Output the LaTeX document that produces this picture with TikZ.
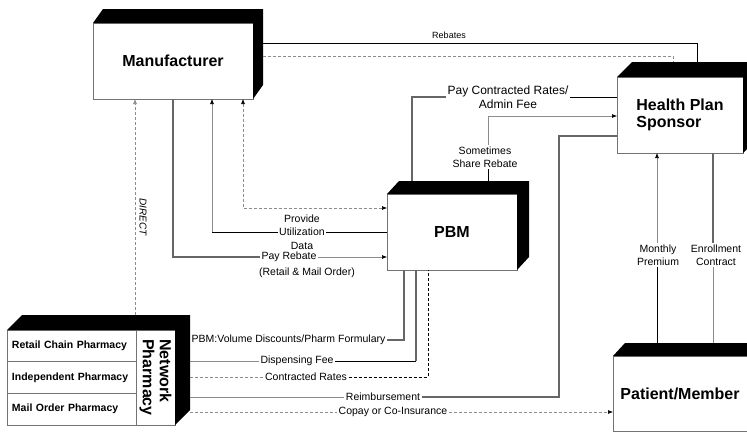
\documentclass[tikz,border=0pt]{standalone}
\usepackage{fontspec}
\setmainfont{Liberation Sans}
\usetikzlibrary{calc,arrows.meta}
\newcommand{\cubeback}[4]{\fill[black] (#1) -- ++(#3,-#4) -| ($(#2)+(#3,-#4)$) -- (#2) -- (#2 |- #1) -- cycle;}
\begin{document}
\begin{tikzpicture}[x=1pt,y=-1pt,
  front/.style={draw=black!55, line width=0.8pt, fill=white, inner sep=0pt, outer sep=0pt},
  big/.style={font=\fontsize{16}{17}\selectfont\bfseries},
  lab/.style={font=\fontsize{10.5}{12.5}\selectfont, inner sep=1.5pt, align=center},
  lk/.style={line width=0.9pt, draw=black},
  lm/.style={line width=1.1pt, draw=black!60},
  ll/.style={line width=0.6pt, draw=black!45},
  dsh/.style={dash pattern=on 3pt off 2pt},
  tip/.style={-{Latex[length=5pt,width=4pt]}},
  tipk/.style={-{Latex[length=5pt,width=4pt,color=black]}},
  rowbox/.style={front, anchor=north west, minimum width=129pt, minimum height=31.67pt, text width=119pt, inner xsep=5pt, align=left, font=\fontsize{10.5}{12.5}\selectfont\bfseries}
]
\useasboundingbox (0,0) rectangle (747,434);

% boxes
\node[front, minimum width=160pt, minimum height=76pt, big] (man) at (173,61) {Manufacturer};
\node[front, minimum width=130pt, minimum height=76pt, big] (pbm) at (452,232) {PBM};
\node[front, minimum width=126pt, minimum height=76pt, big, align=left] (hps) at (680,115) {Health Plan\\Sponsor};
\node[front, minimum width=134pt, minimum height=75pt, big] (pat) at (680,393.5) {Patient/Member};
\node[rowbox] (r1) at (7,330) {Retail Chain Pharmacy};
\node[rowbox] (r2) at (r1.south west) {Independent Pharmacy};
\node[rowbox] (r3) at (r2.south west) {Mail Order Pharmacy};
\node[front, rotate=-90, minimum width=95pt, minimum height=39pt, big, align=left] (np) at (155.5,377.5) {Network\\Pharmacy};
\coordinate (phse) at (r3.south -| np.north);
\coordinate (phx) at ($(np.north)+(15,0)$);

\cubeback{man.north west}{man.south east}{10}{14}
\cubeback{pbm.north west}{pbm.south east}{12}{13}
\cubeback{hps.north west}{hps.south east}{15}{15}
\cubeback{pat.north west}{pat.south east}{12}{13}
\cubeback{r1.north west}{phse}{15}{15}

% Rebates
\draw[lk] ($(man.north east)+(10,20)$) -| ($(hps.north west)+(80,-15)$);
\node[font=\fontsize{9}{11}\selectfont] at (449,35.5) {Rebates};
\draw[ll,dsh] ($(man.north east)+(10,33)$) -| ($(hps.north west)+(56,-15)$);

% DIRECT
\draw[ll,dsh,tip] ($(r1.north west)+(128,-15)$) -- ($(man.south west)+(42,0)$);
\node[font=\fontsize{10}{12}\selectfont\itshape, rotate=-90] at (143,217) {DIRECT};

% Pay Rebate
\node[lab] (prb) at (289,257) {Pay Rebate};
\draw[lm] ($(man.south west)+(80,0)$) |- (prb.west);
\draw[ll,tipk] (prb.east) -- (prb.east -| pbm.west);
\node[lab] at (307,273) {(Retail \& Mail Order)};

% Provide Utilization Data
\node[lab, font=\fontsize{10.5}{13.5}\selectfont] (pud) at (302,232) {Provide\\Utilization\\Data};
\coordinate (mu) at ($(man.south west)+(119,0)$);
\draw[lk] (pbm.west) -- (pud.east);
\draw[lk] (pud.west) -- (pud.west -| mu);
\draw[ll,tipk] (pud.west -| mu) -- (mu);

% dashed manufacturer <-> PBM
\draw[ll,dsh,{Latex[length=5pt,width=4pt,color=black]}-{Latex[length=5pt,width=4pt,color=black]}] ($(man.south west)+(150,0)$) |- ($(pbm.north west)+(0,14)$);

% Pay Contracted Rates / Admin Fee
\node[lab, font=\fontsize{12}{14}\selectfont] (pcr) at (508,97) {Pay Contracted Rates/\\Admin Fee};
\draw[lm] ($(pbm.north west)+(25,-13)$) |- (pcr.west);
\draw[lk] (pcr.east) -- (pcr.east -| hps.west);

% Sometimes Share Rebate
\node[lab] (ssr) at (485,157) {Sometimes\\Share Rebate};
\coordinate (sx) at ($(pbm.north west)+(101,-13)$);
\draw[lk] (sx) -- (sx |- ssr.south);
\draw[ll,tipk] (sx |- ssr.north) |- ($(hps.north west)+(0,39)$);

% Reimbursement
\node[lab] (reim) at (383,397) {Reimbursement};
\draw[lm] ($(hps.north west)+(0,59)$) -| (reim.east -| 559,0) -- (reim.east);
\draw[ll] (reim.west) -- (reim.west -| phx);

% Copay
\node[lab] (cop) at (393,412) {Copay or Co-Insurance};
\draw[ll,dsh] (cop.west -| phx) -- (cop.west);
\draw[ll,dsh,tipk] (cop.east) -- (cop.east -| pat.west);

% PBM volume discounts
\node[lab, anchor=west] (pvd) at (phx |- 0,340) {PBM:Volume Discounts/Pharm Formulary};
\draw[lm] (pvd.east) -| ($(pbm.south west)+(17,0)$);

% Dispensing Fee
\node[lab] (dsp) at (297,361) {Dispensing Fee};
\coordinate (dx) at ($(pbm.south west)+(29,0)$);
\draw[ll] (dsp.west -| phx) -- (dsp.west);
\draw[lk] (dsp.east) -- (dsp.east -| dx);
\draw[lm] (dsp.east -| dx) -- (dx);

% Contracted Rates
\node[lab] (crt) at (306,377) {Contracted Rates};
\draw[ll,dsh] (crt.west -| phx) -- (crt.west);
\draw[lk,dsh,line width=0.8pt] (crt.east) -| ($(pbm.south west)+(41,0)$);

% Monthly Premium
\node[lab] (mp) at (658,255) {Monthly\\Premium};
\coordinate (mx) at ($(pat.north west)+(44,-13)$);
\draw[lk] (mx) -- (mx |- mp.south);
\draw[ll,tipk] (mx |- mp.north) -- (mx |- hps.south);

% Enrollment Contract
\node[lab] (ec) at (716,255) {Enrollment\\Contract};
\coordinate (ex) at ($(hps.south west)+(96,0)$);
\draw[lm] (ex) -- (ex |- ec.north);
\draw[ll] (ex |- ec.south) -- (ex |- mx);
\end{tikzpicture}
\end{document}
